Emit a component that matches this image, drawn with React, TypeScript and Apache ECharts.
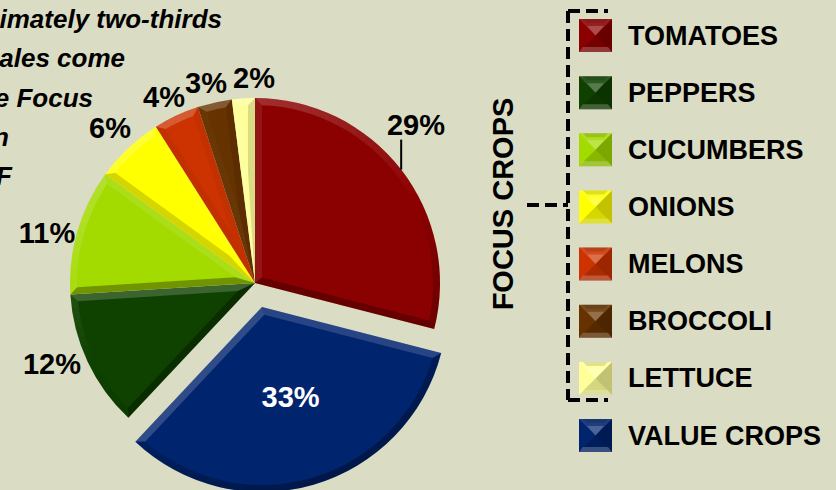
import React, { useEffect, useRef } from "react";
import * as echarts from "echarts";

const categories = ["TOMATOES", "VALUE CROPS", "PEPPERS", "CUCUMBERS", "ONIONS", "MELONS", "BROCCOLI", "LETTUCE"];
const values = [29, 33, 12, 11, 6, 4, 3, 2];
const colors = ["#8B0000", "#00246E", "#0F4200", "#A3DA00", "#FFFF00", "#CC3300", "#663300", "#FFFF99"];
const legendOrder = ["TOMATOES", "PEPPERS", "CUCUMBERS", "ONIONS", "MELONS", "BROCCOLI", "LETTUCE", "VALUE CROPS"];
const noteLines = ["imately two-thirds", "ales come", "e Focus", "n", "F"];
const bracketLabel = "FOCUS CROPS";

const BG = "#DBDCC4";
const FONT = '"Liberation Sans", Arial, sans-serif';
const CX = 255;
const CY = 283;
const R = 185;
const EXPLODE = 25;
const BEVEL = 7;
const labelSpots = [
  [416, 125],
  [291, 397],
  [52, 364],
  [47, 233],
  [110, 128],
  [164, 97],
  [206, 83],
  [254, 78],
];
const noteRight = [222, 125, 93, 9, 12];
const noteBase = [32, 71, 111, 150, 189];

const LIGHT = [-0.42, -0.9];
function shade(nx: number, ny: number) {
  const d = nx * LIGHT[0] + ny * LIGHT[1];
  return d > 0 ? `rgba(255,255,255,${(0.2 * d).toFixed(3)})` : `rgba(0,0,0,${(0.34 * -d).toFixed(3)})`;
}

function renderBevel(params: any) {
  const total = values.reduce((a, b) => a + b, 0);
  const i = params.dataIndex;
  const before = values.slice(0, i).reduce((a, b) => a + b, 0);
  const a0 = (before / total) * Math.PI * 2;
  const a1 = ((before + values[i]) / total) * Math.PI * 2;
  const mid = (a0 + a1) / 2;
  const off = i === 1 ? EXPLODE : 0;
  const ox = CX + off * Math.sin(mid);
  const oy = CY - off * Math.cos(mid);
  const p = (r: number, a: number) => [ox + r * Math.sin(a), oy - r * Math.cos(a)];
  const half = (a1 - a0) / 2;
  const apex = p(BEVEL / Math.sin(half), mid);
  const da = Math.asin(BEVEL / (R - BEVEL));
  const innerStart = a0 + da;
  const innerEnd = a1 - da;
  const children: any[] = [];
  const poly = (points: number[][], fill: string) =>
    children.push({ type: "polygon", shape: { points }, style: { fill, stroke: null }, silent: true });
  poly([p(0, a0), p(R, a0), p(R - BEVEL, innerStart), apex], shade(Math.sin(a0 - Math.PI / 2), -Math.cos(a0 - Math.PI / 2)));
  poly([p(0, a1), p(R, a1), p(R - BEVEL, innerEnd), apex], shade(Math.sin(a1 + Math.PI / 2), -Math.cos(a1 + Math.PI / 2)));
  const steps = Math.max(3, Math.ceil((a1 - a0) / 0.06));
  for (let s = 0; s < steps; s++) {
    const t0 = a0 + ((a1 - a0) * s) / steps;
    const t1 = a0 + ((a1 - a0) * (s + 1)) / steps;
    const q0 = innerStart + ((innerEnd - innerStart) * s) / steps;
    const q1 = innerStart + ((innerEnd - innerStart) * (s + 1)) / steps;
    const tm = (t0 + t1) / 2;
    poly([p(R, t0), p(R, t1), p(R - BEVEL, q1), p(R - BEVEL, q0)], shade(Math.sin(tm), -Math.cos(tm)));
  }
  if (i === 0) {
    const rim = p(R, mid);
    children.push({
      type: "line",
      shape: { x1: rim[0], y1: rim[1], x2: rim[0], y2: rim[1] - 30 },
      style: { stroke: "#000", lineWidth: 2 },
      silent: true,
    });
  }
  return { type: "group", children };
}

const SW_X = 579;
const SW_Y = 19;
const SW = 33;
const SW_STEP = 57.15;
function swatchOverlay(n: number) {
  const x = SW_X;
  const y = SW_Y + n * SW_STEP;
  const c = [x + SW / 2, y + SW / 2];
  const tl = [x, y], tr = [x + SW, y], br = [x + SW, y + SW], bl = [x, y + SW];
  const tri = (points: number[][], fill: string) => ({ type: "polygon", z: 20, shape: { points }, style: { fill }, silent: true });
  return [
    tri([tl, tr, c], "rgba(255,255,255,0.12)"),
    tri([tr, br, c], "rgba(0,0,0,0.24)"),
    tri([br, bl, c], "rgba(0,0,0,0.16)"),
    tri([[x + 8, y + 7], [x + SW - 8, y + 7], c], "rgba(255,255,255,0.2)"),
    tri([bl, br, [x + SW - 4, y + SW - 5], [x + 4, y + SW - 5]], "rgba(255,255,255,0.22)"),
    tri([[x + 4, y], [x + SW - 4, y], [x + SW - 8, y + 4], [x + 8, y + 4]], "rgba(0,0,0,0.12)"),
  ];
}

const dash = { stroke: "#000", lineWidth: 4, lineDash: [12, 6] };
const seg = (x1: number, y1: number, x2: number, y2: number) => ({
  type: "line",
  shape: { x1, y1, x2, y2 },
  style: dash,
  silent: true,
});

export default function App() {
  const ref = useRef<HTMLDivElement>(null);
  useEffect(() => {
    document.body.style.margin = "0";
    const chart = echarts.init(ref.current!, undefined, { renderer: "svg" });
    chart.setOption({
      animation: false,
      backgroundColor: BG,
      tooltip: { show: false },
      legend: {
        orient: "vertical",
        left: SW_X,
        top: SW_Y,
        padding: 0,
        itemWidth: SW,
        itemHeight: SW,
        itemGap: 24.15,
        icon: "rect",
        selectedMode: false,
        data: legendOrder,
        textStyle: { color: "#000", fontFamily: FONT, fontWeight: "bold", fontSize: 27, padding: [2, 0, 0, 11] },
      },
      series: [
        {
          type: "pie",
          center: [CX, CY],
          radius: [0, R],
          startAngle: 90,
          clockwise: true,
          selectedMode: "single",
          selectedOffset: EXPLODE,
          silent: true,
          z: 2,
          label: { show: true, formatter: "{c}%", color: "#000", fontFamily: FONT, fontWeight: "bold", fontSize: 29, position: "outside", overflow: "none" },
          labelLine: { show: false },
          labelLayout: (p: any) =>
            p.dataIndex === 1
              ? { dx: 2, dy: -2 }
              : {
                  x: labelSpots[p.dataIndex][0],
                  y: labelSpots[p.dataIndex][1],
                  align: "center",
                  verticalAlign: "middle",
                },
          data: categories.map((name, i) => ({
            name,
            value: values[i],
            selected: i === 1,
            itemStyle: { color: colors[i] },
            label: i === 1 ? { color: "#fff", position: "inside" } : undefined,
          })),
        },
        {
          type: "custom",
          name: "bevel",
          coordinateSystem: "none",
          silent: true,
          z: 3,
          data: values,
          renderItem: renderBevel,
        },
      ],
      graphic: {
        elements: [
          ...noteLines.map((text, i) => ({
            type: "text",
            z: 10,
            silent: true,
            style: {
              text,
              x: noteRight[i],
              y: noteBase[i],
              align: "right",
              verticalAlign: "bottom",
              fill: "#000",
              font: `italic bold 26px ${FONT}`,
            },
          })),
          {
            type: "text",
            z: 10,
            silent: true,
            x: 503,
            y: 204,
            rotation: Math.PI / 2,
            style: {
              text: bracketLabel,
              x: 0,
              y: 0,
              align: "center",
              verticalAlign: "middle",
              fill: "#000",
              font: `bold 29px ${FONT}`,
            },
          },
          seg(568, 11, 608, 11),
          seg(568, 11, 568, 400),
          seg(568, 400, 608, 400),
          seg(527, 205, 568, 205),
          ...legendOrder.flatMap((_, n) => swatchOverlay(n)),
        ],
      },
    });
    return () => chart.dispose();
  }, []);
  return <div ref={ref} style={{ width: 836, height: 490 }} />;
}
